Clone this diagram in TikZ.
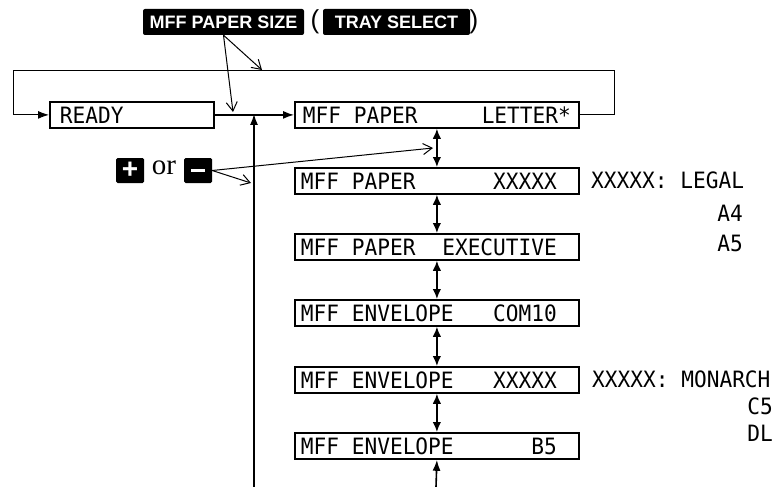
\documentclass[tikz,border=0pt]{standalone}
\usepackage{fontspec}
\setmainfont{Liberation Serif}
\newfontfamily\lcdfont[FakeStretch=0.94]{DejaVu Sans Mono}
\newfontfamily\keyfont{Liberation Sans}
\usetikzlibrary{arrows.meta}
\begin{document}
\begin{tikzpicture}[x=1pt,y=-1pt,
  lcdbox/.style={draw, line width=1.8pt, minimum width=284pt, minimum height=26pt,
    inner xsep=6pt, inner ysep=0pt, anchor=north west,
    font=\lcdfont\fontsize{22.5}{22.5}\selectfont},
  side/.style={inner sep=0pt, font=\lcdfont\fontsize{22.5}{22.5}\selectfont},
  key/.style={fill=black, text=white, rounded corners=2pt, minimum height=26pt,
    inner sep=0pt, font=\keyfont\bfseries\fontsize{18}{18}\selectfont},
  pmkey/.style={fill=black, text=white, rounded corners=1.5pt, minimum width=28pt,
    minimum height=25pt, inner sep=0pt, font=\keyfont\bfseries\fontsize{28}{28}\selectfont},
  flow/.style={line width=1.3pt, -{Latex[length=11pt,width=8pt]}},
  dbl/.style={line width=1.6pt, {Latex[length=10pt,width=8.5pt]}-{Latex[length=10pt,width=8.5pt]}},
  keyarrow/.style={line width=1pt, -{Straight Barb[length=9pt,width=11pt]}}]
\useasboundingbox (0,0) rectangle (780,487);

% key labels at top
\node[key, minimum width=161pt] (mps) at (223.5,22) {MFF PAPER SIZE};
\node[inner sep=0pt, font=\keyfont\fontsize{26}{26}\selectfont] (lp) at (315,22) {(};
\node[key, minimum width=147pt] (tray) at (396.5,22) {TRAY SELECT};
\node[inner sep=0pt, font=\keyfont\fontsize{26}{26}\selectfont] (rp) at (474,22) {)};

% + or - keys
\node[pmkey] (plus) at (130,170.5) {+};
\node[inner sep=0pt, font=\fontsize{29}{29}\selectfont] (or) at (164,168) {or};
\node[pmkey] (minus) at (198,170.5) {\rule{14pt}{3pt}};

% READY box
\node[lcdbox, minimum width=164pt, inner xsep=10pt] (ready) at (49,101) {\hbox to 144pt{READY\hfill}};

% menu boxes
\node[lcdbox] (b1) at (294,101) {\hbox to 268pt{MFF PAPER\hfill LETTER*}\hspace{4pt}};
\node[lcdbox] (b2) at (294,167) {\hbox to 272pt{\hbox to 256pt{MFF PAPER\hfill XXXXX}\hfill}};
\node[lcdbox] (b3) at (294,233) {\hbox to 272pt{\hbox to 256pt{MFF PAPER\hfill EXECUTIVE}\hfill}};
\node[lcdbox] (b4) at (294,299) {\hbox to 272pt{\hbox to 256pt{MFF ENVELOPE\hfill COM10}\hfill}};
\node[lcdbox] (b5) at (294,366) {\hbox to 272pt{\hbox to 256pt{MFF ENVELOPE\hfill XXXXX}\hfill}};
\node[lcdbox] (b6) at (294,432) {\hbox to 272pt{\hbox to 256pt{MFF ENVELOPE\hfill B5}\hfill}};

% side lists
\node[side, anchor=west] (lgl) at (591,180) {XXXXX: LEGAL};
\node[side, anchor=east] (a4) at (743,213) {A4};
\node[side, anchor=east] (a5) at (743,243) {A5};
\node[side, anchor=west] (mon) at (592,379) {XXXXX: MONARCH};
\node[side, anchor=east] (c5) at (773,406) {C5};
\node[side, anchor=east] (dl) at (773,433) {DL};

% coordinates
\coordinate (lpR) at (614,71);
\coordinate (lpL) at (13,71);
\coordinate (fbBot) at (254,487);
\coordinate (fbTop) at (254,114);
\coordinate (botIn) at (436,487);
\coordinate (tipLoop) at (262,70);
\coordinate (tipJoin) at (233,112);
\coordinate (tipPM) at (433,148);
\coordinate (tipFb) at (251,183);

% flow
\draw[flow] (ready.east) -- (b1.west);
\draw[flow, line width=1pt] (b1.east) -| (lpR) -- (lpL) |- (ready.west);
\draw[flow] (fbBot) -- (fbTop);
\draw[dbl] (b1.south) -- (b2.north);
\draw[dbl] (b2.south) -- (b3.north);
\draw[dbl] (b3.south) -- (b4.north);
\draw[dbl] (b4.south) -- (b5.north);
\draw[dbl] (b5.south) -- (b6.north);
\draw[flow, line width=1.6pt] (botIn) -- (b6.south);

% key arrows
\draw[keyarrow] (mps.south) -- (tipLoop);
\draw[keyarrow] (mps.south) -- (tipJoin);
\draw[keyarrow] (minus.east) -- (tipPM);
\draw[keyarrow] (minus.east) -- (tipFb);
\end{tikzpicture}
\end{document}
